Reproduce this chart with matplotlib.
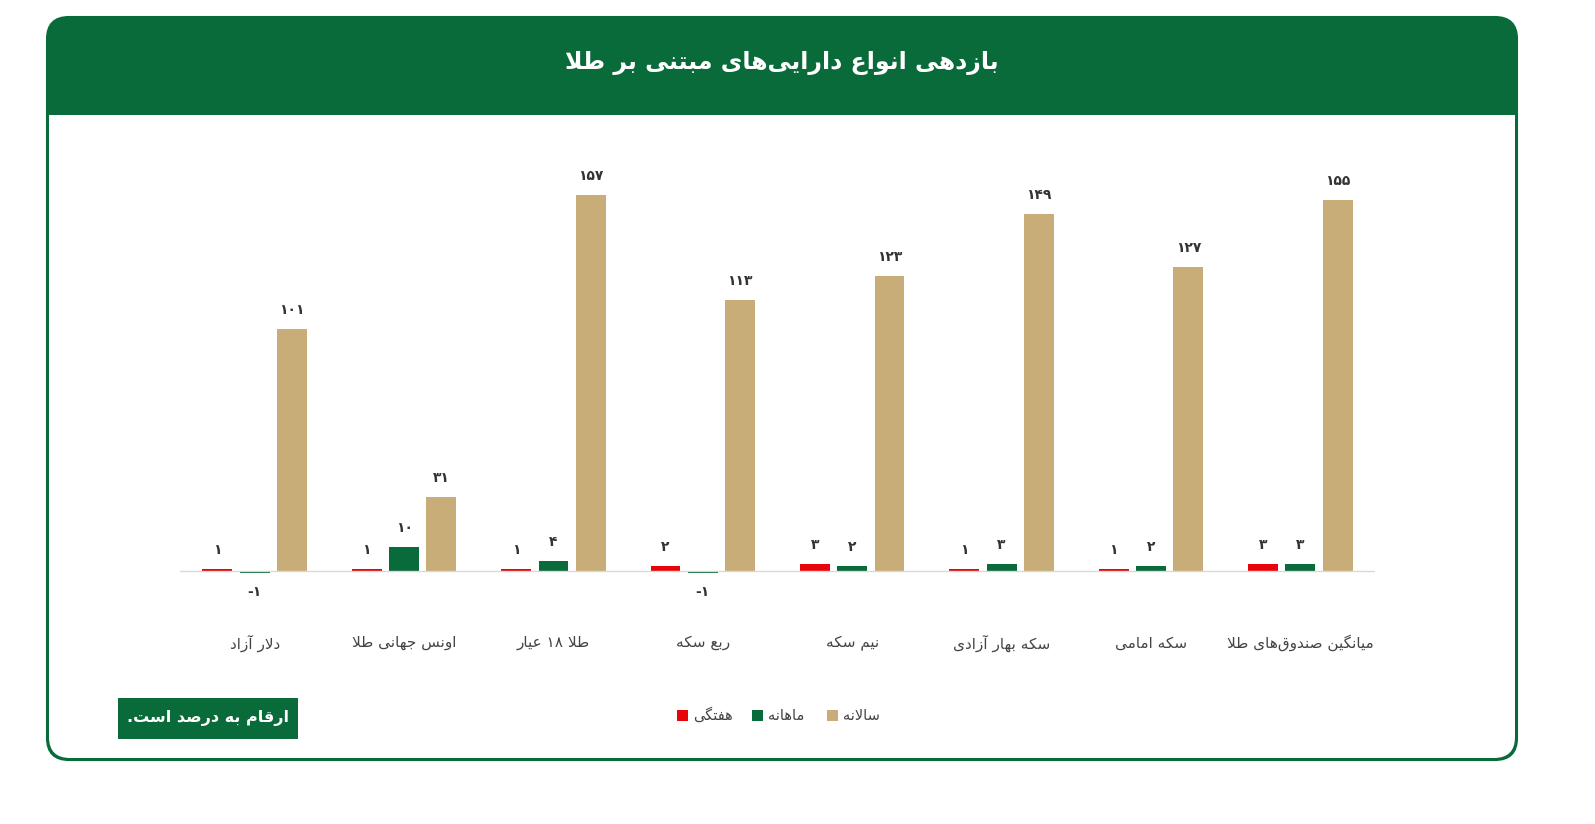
import matplotlib.pyplot as plt
from matplotlib.patches import FancyBboxPatch, Rectangle
import numpy as np

# ---- minimal Persian shaping (matplotlib has no bidi/reshaping) ----
FORMS = {
    'ا': (0xFE8D, 0xFE8E, None, None), 'آ': (0xFE81, 0xFE82, None, None),
    'ب': (0xFE8F, 0xFE90, 0xFE91, 0xFE92), 'ت': (0xFE95, 0xFE96, 0xFE97, 0xFE98),
    'ج': (0xFE9D, 0xFE9E, 0xFE9F, 0xFEA0), 'د': (0xFEA9, 0xFEAA, None, None),
    'ر': (0xFEAD, 0xFEAE, None, None), 'ز': (0xFEAF, 0xFEB0, None, None),
    'س': (0xFEB1, 0xFEB2, 0xFEB3, 0xFEB4), 'ص': (0xFEB9, 0xFEBA, 0xFEBB, 0xFEBC),
    'ط': (0xFEC1, 0xFEC2, 0xFEC3, 0xFEC4), 'ع': (0xFEC9, 0xFECA, 0xFECB, 0xFECC),
    'ف': (0xFED1, 0xFED2, 0xFED3, 0xFED4),
    'ق': (0xFED5, 0xFED6, 0xFED7, 0xFED8), 'ک': (0xFB8E, 0xFB8F, 0xFB90, 0xFB91),
    'گ': (0xFB92, 0xFB93, 0xFB94, 0xFB95), 'ل': (0xFEDD, 0xFEDE, 0xFEDF, 0xFEE0),
    'م': (0xFEE1, 0xFEE2, 0xFEE3, 0xFEE4), 'ن': (0xFEE5, 0xFEE6, 0xFEE7, 0xFEE8),
    'و': (0xFEED, 0xFEEE, None, None), 'ه': (0xFEE9, 0xFEEA, 0xFEEB, 0xFEEC),
    'ی': (0xFBFC, 0xFBFD, 0xFBFE, 0xFBFF),
}
LAMALEF = {'ا': (0xFEFB, 0xFEFC), 'آ': (0xFEF5, 0xFEF6)}


def shape(word):
    chars = list(word)
    out = []
    prev_joins = False
    i = 0
    while i < len(chars):
        c = chars[i]
        if c not in FORMS:
            if c != '\u200c':
                out.append(c)
            prev_joins = False
            i += 1
            continue
        if c == 'ل' and i + 1 < len(chars) and chars[i + 1] in LAMALEF:
            iso, fin = LAMALEF[chars[i + 1]]
            out.append(chr(fin if prev_joins else iso))
            prev_joins = False
            i += 2
            continue
        f = FORMS[c]
        nxt = chars[i + 1] if i + 1 < len(chars) else None
        next_joins = f[2] is not None and nxt in FORMS
        if prev_joins and next_joins:
            out.append(chr(f[3]))
        elif prev_joins:
            out.append(chr(f[1]))
        elif next_joins:
            out.append(chr(f[2]))
        else:
            out.append(chr(f[0]))
        prev_joins = next_joins
        i += 1
    return ''.join(out)


def fa(text):
    words = []
    for w in text.split(' '):
        if all(ch in '۰۱۲۳۴۵۶۷۸۹-' for ch in w):
            words.append(w)
        else:
            words.append(shape(w)[::-1])
    return ' '.join(words[::-1])


def fa_num(v):
    s = ''.join('۰۱۲۳۴۵۶۷۸۹'[int(d)] for d in str(abs(v)))
    return ('-' + s) if v < 0 else s


# ---- data ----
categories = ['دلار آزاد', 'اونس جهانی طلا', 'طلا ۱۸ عیار', 'ربع سکه', 'نیم سکه',
              'سکه بهار آزادی', 'سکه امامی', 'میانگین صندوق\u200cهای طلا']
weekly = [1, 1, 1, 2, 3, 1, 1, 3]
monthly = [-1, 10, 4, -1, 2, 3, 2, 3]
annual = [101, 31, 157, 113, 123, 149, 127, 155]

RED = '#e8050a'
GREEN = '#0a6b3a'
TAN = '#c9ad78'

plt.rcParams['font.family'] = ['DejaVu Sans']

W, H = 1595, 824
fig = plt.figure(figsize=(W / 100, H / 100), dpi=100)

# background / card layer in pixel coords
bg = fig.add_axes([0, 0, 1, 1])
bg.set_xlim(0, W)
bg.set_ylim(H, 0)
bg.axis('off')
bg.add_patch(FancyBboxPatch((47, 17), 1470, 743, boxstyle='round,pad=0,rounding_size=22',
                            fc=GREEN, ec=GREEN, lw=1.5))
bg.add_patch(FancyBboxPatch((49, 115), 1466, 643, boxstyle='round,pad=0,rounding_size=21',
                            fc='white', ec='none'))
bg.add_patch(Rectangle((49, 115), 1466, 40, fc='white', ec='none'))
bg.text(782, 63, fa('بازدهی انواع دارایی\u200cهای مبتنی بر طلا'), color='white',
        fontsize=17, fontweight='bold', ha='center', va='center')

# note box
bg.add_patch(Rectangle((118, 698), 180, 41, fc=GREEN, ec='none'))
bg.text(208, 718, fa('ارقام به درصد است.'), color='white', fontsize=11.5,
        fontweight='bold', ha='center', va='center')

# legend
for x, col, lab in [(683, RED, 'هفتگی'), (758, GREEN, 'ماهانه'), (833, TAN, 'سالانه')]:
    bg.add_patch(Rectangle((x - 6, 710), 11, 11, fc=col, ec='none'))
    bg.text(x + 10, 715, fa(lab), color='#444444', fontsize=10.5, ha='left', va='center')

# bar chart: baseline at y=571 px, 157 -> 195 px
y0 = -10
y1 = 170
ppu = (571 - 195) / 157
top_px = 571 - y1 * ppu
bot_px = 571 - y0 * ppu
ax = fig.add_axes([180 / W, 1 - bot_px / H, (1375 - 180) / W, (bot_px - top_px) / H])
ax.set_xlim(-0.5, len(categories) - 0.5)
ax.set_ylim(y0, y1)
ax.patch.set_alpha(0)
for s in ax.spines.values():
    s.set_visible(False)
ax.set_xticks([])
ax.set_yticks([])
ax.axhline(0, color='#d9d9d9', lw=1)

x = np.arange(len(categories))
w = 0.2
for off, vals, col in [(-0.25, weekly, RED), (0, monthly, GREEN), (0.25, annual, TAN)]:
    ax.bar(x + off, vals, width=w, color=col)
    for xi, v in zip(x + off, vals):
        if v >= 0:
            ax.text(xi, v + 5, fa_num(v), ha='center', va='bottom', fontsize=10,
                    fontweight='bold', color='#333333')
        else:
            ax.text(xi, v - 5, fa_num(v), ha='center', va='top', fontsize=10,
                    fontweight='bold', color='#333333')

for xi, c in zip(x, categories):
    bg.text(180 + (xi + 0.5) * (1375 - 180) / len(categories), 643, fa(c),
            ha='center', va='center', fontsize=11, color='#444444')

fig.savefig('out.png', dpi=100)
